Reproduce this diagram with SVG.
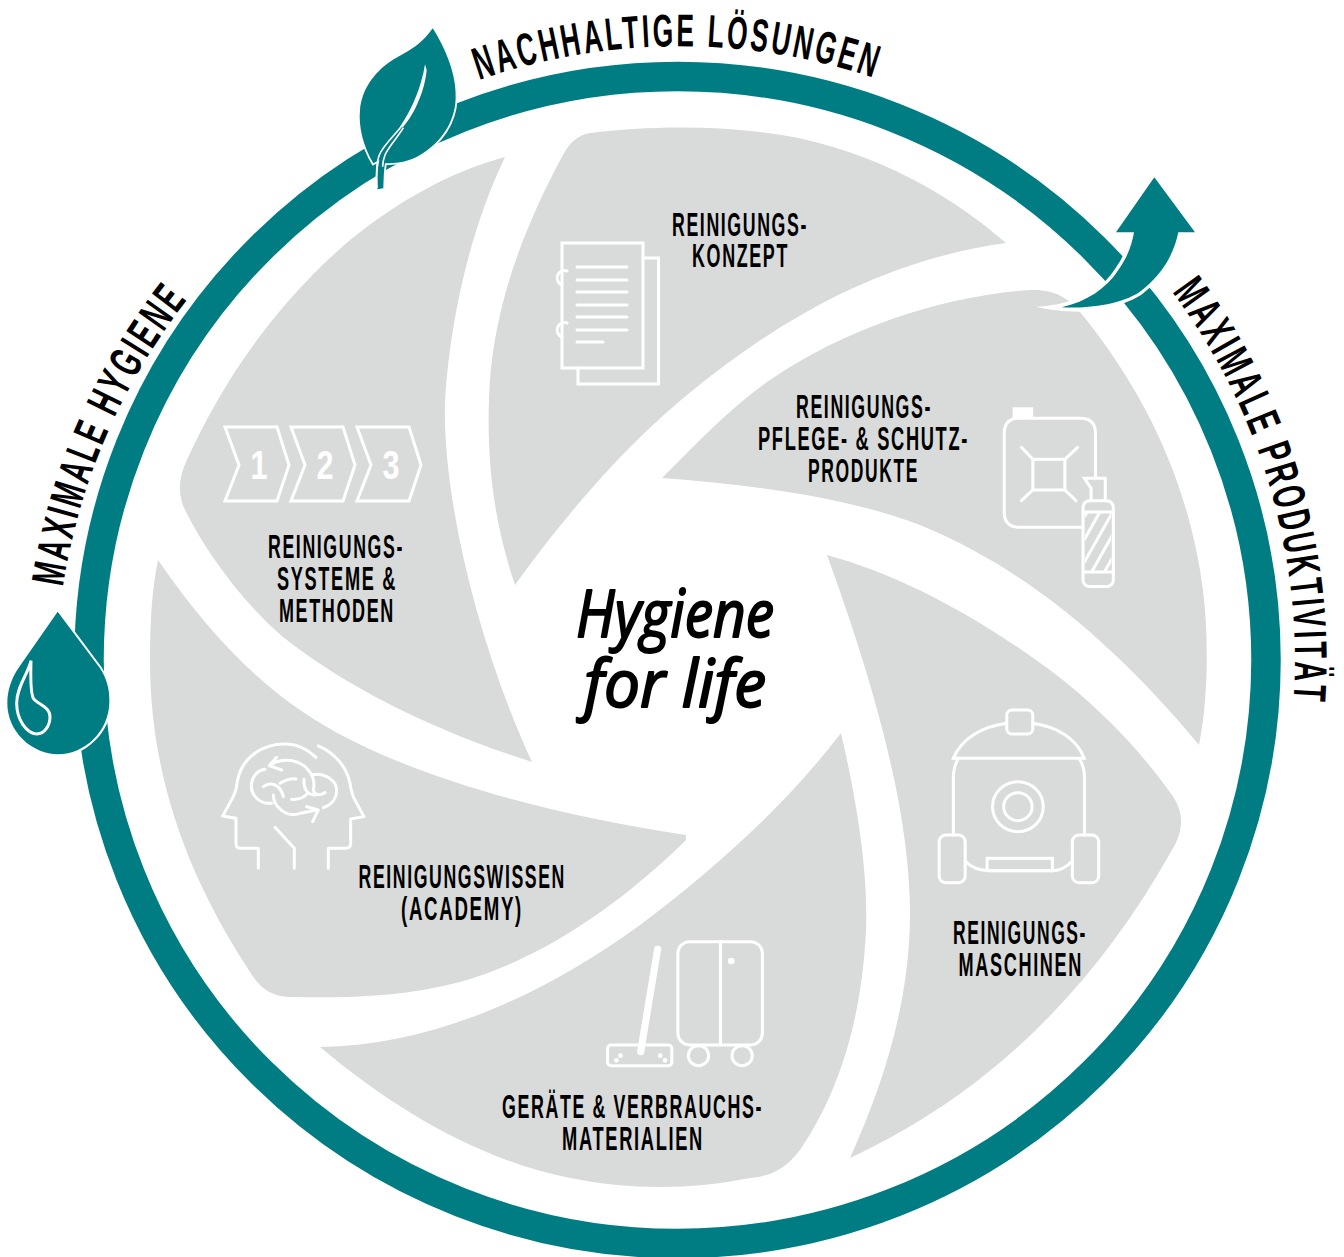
<svg xmlns="http://www.w3.org/2000/svg" width="1344" height="1257" viewBox="0 0 1344 1257">
<style>
.blade{fill:#d9dbdb}
.lbl{font-family:"Liberation Sans",Arial,sans-serif;font-weight:700;font-size:33px;letter-spacing:3px;fill:#000;stroke:none}
.arc{font-family:"Liberation Sans",Arial,sans-serif;font-weight:700;font-size:46px;letter-spacing:5px;fill:#000}
.ic{fill:none;stroke:#fff;stroke-width:3;stroke-linecap:round;stroke-linejoin:miter}
.num{font-family:"Liberation Sans",Arial,sans-serif;font-weight:700;font-size:40px;fill:#fff;text-anchor:middle}
.hand{font-family:"Open Sans",sans-serif;font-style:italic;font-weight:400;font-size:66px;fill:#000;stroke:#000;stroke-width:2;stroke-linejoin:round}
.teal{fill:#007d82}
</style>
<defs>
<path id="pTop" d="M479 80A612 612 0 0 1 880 80"/>
<path id="pRight" d="M1172 292A616 616 0 0 1 1293 710"/>
<path id="pLeft" d="M63 587A616 616 0 0 1 195 290"/>
<clipPath id="hatch"><rect x="312" y="1058" width="78" height="177"/></clipPath>
</defs>
<rect width="1344" height="1257" fill="#fff"/>

<g id="connectors">
<ellipse id="ring" cx="677.5" cy="660" rx="588.5" ry="583.5" fill="none" stroke="#007d82" stroke-width="29.5"/>
</g>

<g id="node-konzept">
<path class="blade" d="M515 585C493 520 487 460 489 400C491 310 525 225 563 155C570 142 578 135 590 133C640 127 700 125 760 132C860 143 945 190 1006 243C870 262 765 330 681 400C610 460 555 530 515 585Z"/>
<g class="ic">
<path d="M578 368V384H658.500V258H643"/>
<rect x="562" y="243" width="81" height="125"/>
<path d="M577 267H627M577 280H627M577 292H627M577 305H627M577 317H627M577 330H627M577 342H603"/>
<path d="M567 271A7 7 0 1 0 562 285M567 323A7 7 0 1 0 562 337"/>
</g>
<text class="lbl"><tspan x="672" y="236" textLength="136" lengthAdjust="spacingAndGlyphs">REINIGUNGS-</tspan></text>
<text class="lbl"><tspan x="692" y="267" textLength="97" lengthAdjust="spacingAndGlyphs">KONZEPT</tspan></text>
</g>

<g id="node-pflege">
<path class="blade" d="M662 478C700 440 730 408 770 380C850 325 950 295 1030 290C1055 289 1070 298 1085 318C1150 400 1190 490 1203 590C1209 640 1208 700 1199 745C1120 650 1030 570 920 525C840 495 750 485 662 478Z"/>
<g transform="translate(980 160) scale(.3367 .3333)">
<rect x="97" y="742" width="61" height="33" fill="#fff"/>
<g class="ic" style="stroke-width:9">
<path d="M343 950V820Q343 775 298 775H117Q72 775 72 820V1057Q72 1102 117 1102H305"/>
<rect x="157" y="898" width="95" height="92"/>
<path d="M157 898L123 862M252 898L290 862M157 990L123 1022M252 990L285 1022"/>
<path d="M330 1022V985L310 955H372V1022"/>
<rect x="306" y="1022" width="90" height="258" rx="20"/>
<path d="M306 1056H396M306 1236H396"/>
<g clip-path="url(#hatch)"><path d="M218 1235L316 1060M256 1235L354 1060M294 1235L392 1060M332 1235L430 1060M370 1235L468 1060"/></g>
</g>
</g>
<text class="lbl"><tspan x="796" y="418" textLength="136" lengthAdjust="spacingAndGlyphs">REINIGUNGS-</tspan></text>
<text class="lbl"><tspan x="758" y="450" textLength="211" lengthAdjust="spacingAndGlyphs">PFLEGE- &amp; SCHUTZ-</tspan></text>
<text class="lbl"><tspan x="808" y="482" textLength="111" lengthAdjust="spacingAndGlyphs">PRODUKTE</tspan></text>
</g>

<g id="node-maschinen">
<path class="blade" d="M827 555C900 575 975 615 1050 670C1100 708 1140 750 1172 795C1184 812 1184 830 1172 850C1130 925 1080 990 1020 1045C965 1095 910 1130 850 1158C885 1080 910 1000 910 913C910 820 880 700 827 555Z"/>
<g transform="translate(590 700) scale(.338 .3333)">
<g class="ic" style="stroke-width:9">
<rect x="1233" y="30" width="77" height="72" rx="15"/>
<path d="M1233 70C1160 80 1100 115 1075 175H1462C1440 115 1380 80 1310 70"/>
<path d="M1090 175Q1075 200 1075 235V405M1447 175Q1463 200 1463 235V405"/>
<circle cx="1266" cy="320" r="75"/><circle cx="1266" cy="320" r="42"/>
<rect x="1033" y="405" width="77" height="143" rx="20"/>
<rect x="1427" y="405" width="78" height="143" rx="20"/>
<path d="M1110 483Q1135 512 1185 512H1370Q1400 512 1427 483"/>
<rect x="1175" y="475" width="193" height="37"/>
</g>
</g>
<text class="lbl"><tspan x="953" y="944" textLength="134" lengthAdjust="spacingAndGlyphs">REINIGUNGS-</tspan></text>
<text class="lbl"><tspan x="958.500" y="976" textLength="124.500" lengthAdjust="spacingAndGlyphs">MASCHINEN</tspan></text>
</g>

<g id="node-geraete">
<path class="blade" d="M841 733C860 815 868 880 866 930C862 1020 838 1095 800 1150C785 1170 770 1176 750 1178C690 1190 630 1190 570 1178C480 1160 395 1110 320 1047C420 1046 530 1005 640 925C720 865 790 800 841 733Z"/>
<g transform="translate(590 700) scale(.338 .3333)">
<g class="ic" style="stroke-width:9">
<rect x="52" y="1035" width="190" height="62" rx="10"/>
<rect x="260" y="725" width="250" height="310" rx="35"/>
<path d="M386 725V1035"/>
<circle cx="321" cy="1067" r="30"/><circle cx="450" cy="1067" r="30"/>
<path d="M200 748L150 1055" style="stroke-width:21"/>
</g>
<g fill="#fff"><circle cx="418" cy="783" r="10"/><circle cx="90" cy="1067" r="7"/><circle cx="78" cy="1081" r="7"/><circle cx="208" cy="1067" r="7"/><circle cx="222" cy="1081" r="7"/></g>
</g>
<text class="lbl"><tspan x="502" y="1118" textLength="261" lengthAdjust="spacingAndGlyphs">GERÄTE &amp; VERBRAUCHS-</tspan></text>
<text class="lbl"><tspan x="562" y="1150" textLength="142" lengthAdjust="spacingAndGlyphs">MATERIALIEN</tspan></text>
</g>

<g id="node-wissen">
<path class="blade" d="M158 560C220 650 280 705 351 740C430 780 550 815 686 835L686 840C620 905 540 960 460 982C400 998 340 998 290 997C270 996 260 988 250 972C190 880 150 780 150 660C150 620 152 590 158 560Z"/>
<g transform="translate(0 420) scale(.3333)">
<g class="ic" style="stroke-width:9;stroke-linejoin:round">
<path d="M775 1345V1285H720Q708 1285 708 1270V1195L668 1188L700 1130Q710 1110 712 1085C725 1010 790 970 860 972C895 973 925 990 948 1012"/>
<path d="M955 978C1005 1000 1040 1040 1050 1090Q1055 1120 1062 1135L1092 1190L1052 1197V1270Q1052 1285 1038 1285H985V1345"/>
<path d="M825 1222L883 1285V1345"/>
<path d="M795 1048C755 1055 740 1105 770 1135C785 1150 800 1150 815 1150"/>
<path d="M810 1035C850 1010 900 1020 925 1050C940 1065 945 1090 940 1110C945 1125 955 1130 975 1118"/>
<path d="M830 1012L808 1037L845 1050"/>
<path d="M935 1065C975 1055 1010 1085 1010 1110C1010 1135 995 1155 970 1163"/>
<path d="M820 1125C820 1160 860 1195 900 1180L950 1170"/>
<path d="M920 1160L955 1170L938 1205"/>
<path d="M790 1100C810 1085 840 1090 850 1130M840 1090C860 1078 875 1075 888 1077M912 1078C910 1110 925 1125 945 1125M875 1138C900 1140 915 1130 925 1118"/>
</g>
</g>
<text class="lbl"><tspan x="358.500" y="888" textLength="207.500" lengthAdjust="spacingAndGlyphs">REINIGUNGSWISSEN</tspan></text>
<text class="lbl"><tspan x="401" y="920" textLength="122" lengthAdjust="spacingAndGlyphs">(ACADEMY)</tspan></text>
</g>

<g id="node-systeme">
<path class="blade" d="M505 157C470 230 450 320 445 400C442 500 480 650 532 762C440 733 350 690 283 637C240 600 205 550 185 510C178 495 178 480 186 462C225 375 280 300 350 240C400 200 450 172 505 157Z"/>
<g class="ic">
<path d="M225 427H277L289 465L277 501H225L239 465Z"/>
<path d="M291 427H343L355 465L343 501H291L305 465Z"/>
<path d="M357 427H409L421 465L409 501H357L371 465Z"/>
</g>
<text class="num" x="259" y="479" textLength="17" lengthAdjust="spacingAndGlyphs">1</text>
<text class="num" x="325" y="479" textLength="17" lengthAdjust="spacingAndGlyphs">2</text>
<text class="num" x="391" y="479" textLength="17" lengthAdjust="spacingAndGlyphs">3</text>
<text class="lbl"><tspan x="268" y="558" textLength="136" lengthAdjust="spacingAndGlyphs">REINIGUNGS-</tspan></text>
<text class="lbl"><tspan x="277" y="590" textLength="120" lengthAdjust="spacingAndGlyphs">SYSTEME &amp;</tspan></text>
<text class="lbl"><tspan x="279" y="622" textLength="116" lengthAdjust="spacingAndGlyphs">METHODEN</tspan></text>
</g>

<g id="node-leaf" transform="translate(340 20) scale(.3333)">
<path class="teal" stroke="#fff" stroke-width="11" paint-order="stroke" d="M278 25C320 90 350 170 347 235C345 310 300 370 240 405C210 425 170 430 135 430C131 455 131 480 130 505L112 508C112 470 112 450 118 420L100 430C70 380 55 320 60 270C65 210 100 160 150 125C200 95 240 80 278 25Z"/>
<path fill="#fff" d="M255 133L260 150C255 210 225 280 190 320L180 320C215 270 245 200 255 133Z"/>
<path fill="none" stroke="#fff" stroke-width="5" d="M185 318C165 345 130 375 118 405C110 425 108 460 111 505M190 323C175 350 145 380 135 405C130 418 128 428 128 440"/>
</g>

<g id="node-arrow" transform="translate(1020 170) scale(.3333)">
<path fill="#fff" d="M48 410C90 420 130 424 178 425L250 420L200 370L150 392C110 405 80 408 48 410Z"/>
<path class="teal" stroke="#fff" stroke-width="20" paint-order="stroke" d="M403 22L525 187H475C460 260 420 320 360 365C300 405 200 415 125 412C200 395 260 355 295 300C320 265 335 230 342 187H288Z"/>
</g>

<g id="node-drop" transform="translate(0 420) scale(.3333)">
<path class="teal" stroke="#fff" stroke-width="12" paint-order="stroke" d="M173 575L300 745C320 775 330 810 328 850C325 935 255 1003 175 1003C95 1003 22 935 22 850C22 810 35 775 55 745Z"/>
<path fill="none" stroke="#fff" stroke-width="9" d="M93 722C85 760 50 800 50 850C50 900 80 940 110 942C135 942 150 915 150 890C150 860 115 855 100 835C90 815 92 765 93 722Z"/>
</g>

<g id="node-center">
<text class="hand" x="576" y="637" textLength="198" lengthAdjust="spacingAndGlyphs">Hygiene</text>
<text class="hand" x="584" y="707" textLength="182" lengthAdjust="spacingAndGlyphs">for life</text>
</g>

<g id="titles">
<text class="arc"><textPath href="#pTop" textLength="404" lengthAdjust="spacingAndGlyphs">NACHHALTIGE LÖSUNGEN</textPath></text>
<text class="arc"><textPath href="#pRight" textLength="438" lengthAdjust="spacingAndGlyphs">MAXIMALE PRODUKTIVITÄT</textPath></text>
<text class="arc"><textPath href="#pLeft" textLength="319" lengthAdjust="spacingAndGlyphs">MAXIMALE HYGIENE</textPath></text>
</g>
</svg>
